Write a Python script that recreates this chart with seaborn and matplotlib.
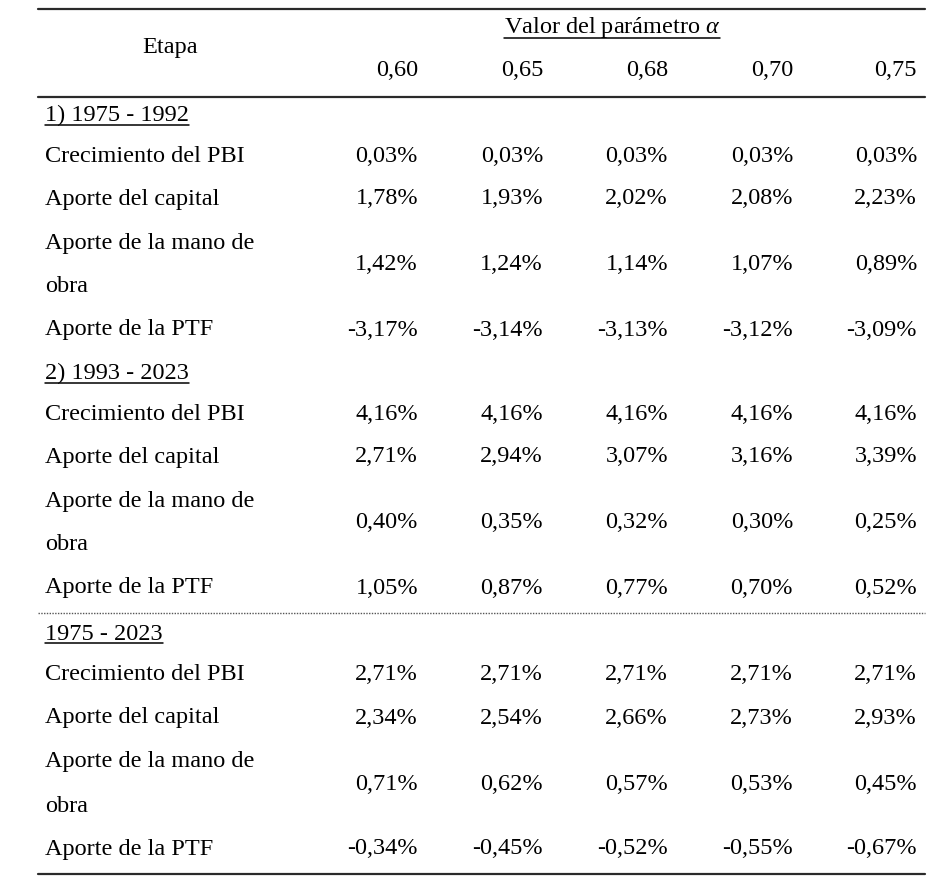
import matplotlib
matplotlib.use("Agg")
import matplotlib.pyplot as plt
import seaborn as sns
import pandas as pd

sns.set_theme(style="white")
plt.rcParams['font.family'] = ['Liberation Serif', 'DejaVu Serif']
plt.rcParams['mathtext.fontset'] = 'custom'
plt.rcParams['mathtext.it'] = 'Liberation Serif:italic'
plt.rcParams['mathtext.rm'] = 'Liberation Serif'
plt.rcParams['text.color'] = 'black'

alphas = ["0,60", "0,65", "0,68", "0,70", "0,75"]
sections = ["1) 1975 - 1992", "2) 1993 - 2023", "1975 - 2023"]
row_labels = ["Crecimiento del PBI", "Aporte del capital",
              "Aporte de la mano de\nobra", "Aporte de la PTF"]

s1_pbi = ["0,03%", "0,03%", "0,03%", "0,03%", "0,03%"]
s1_cap = ["1,78%", "1,93%", "2,02%", "2,08%", "2,23%"]
s1_mo = ["1,42%", "1,24%", "1,14%", "1,07%", "0,89%"]
s1_ptf = ["-3,17%", "-3,14%", "-3,13%", "-3,12%", "-3,09%"]

s2_pbi = ["4,16%", "4,16%", "4,16%", "4,16%", "4,16%"]
s2_cap = ["2,71%", "2,94%", "3,07%", "3,16%", "3,39%"]
s2_mo = ["0,40%", "0,35%", "0,32%", "0,30%", "0,25%"]
s2_ptf = ["1,05%", "0,87%", "0,77%", "0,70%", "0,52%"]

s3_pbi = ["2,71%", "2,71%", "2,71%", "2,71%", "2,71%"]
s3_cap = ["2,34%", "2,54%", "2,66%", "2,73%", "2,93%"]
s3_mo = ["0,71%", "0,62%", "0,57%", "0,53%", "0,45%"]
s3_ptf = ["-0,34%", "-0,45%", "-0,52%", "-0,55%", "-0,67%"]

section_data = [[s1_pbi, s1_cap, s1_mo, s1_ptf],
                [s2_pbi, s2_cap, s2_mo, s2_ptf],
                [s3_pbi, s3_cap, s3_mo, s3_ptf]]

W, H = 940, 890
fig = plt.figure(figsize=(9.4, 8.9), dpi=100)
ax = fig.add_axes([0, 0, 1, 1])
ax.set_xlim(0, W)
ax.set_ylim(H, 0)
ax.axis("off")

FS = 17.5
col_right = [418, 543, 668, 793, 917]
label_x = 45
LEFT, RIGHT = 38, 925

def hrule(y, ls="-", lw=1.6, color="#2a2a2a"):
    df = pd.DataFrame({"x": [LEFT, RIGHT], "y": [y, y]})
    sns.lineplot(data=df, x="x", y="y", ax=ax, color=color, lw=lw,
                 linestyle=ls, legend=False)

def underline(t):
    fig.canvas.draw()
    r = fig.canvas.get_renderer()
    bb = t.get_window_extent(renderer=r)
    inv = ax.transData.inverted()
    (x0, y0) = inv.transform((bb.x0, bb.y0))
    (x1, _) = inv.transform((bb.x1, bb.y0))
    ax.plot([x0, x1], [y0 - 1, y0 - 1], color="black", lw=1.1)

# rules
hrule(9)
hrule(97)
hrule(613, ls=(0, (1, 1)), lw=1.0, color="#555555")
hrule(874)

# header
ax.text(170, 48, "Etapa", fontsize=FS, ha="center", va="center")
t = ax.text(612, 27, r"Valor del parámetro $\it{\alpha}$", fontsize=FS,
            ha="center", va="center")
underline(t)
for a, xr in zip(alphas, col_right):
    ax.text(xr, 70, a, fontsize=FS, ha="right", va="center")

section_y = [115, 373, 634]
row_offsets = [41, 84, 150, 215]
for sec, sy, data in zip(sections, section_y, section_data):
    t = ax.text(label_x, sy, sec, fontsize=FS, ha="left", va="center")
    underline(t)
    for lab, off, vals in zip(row_labels, row_offsets, data):
        y = sy + off
        if "\n" in lab:
            l1, l2 = lab.split("\n")
            ax.text(label_x, y - 22, l1, fontsize=FS, ha="left", va="center")
            ax.text(label_x, y + 22, l2, fontsize=FS, ha="left", va="center")
        else:
            ax.text(label_x, y, lab, fontsize=FS, ha="left", va="center")
        for v, xr in zip(vals, col_right):
            ax.text(xr, y, v, fontsize=FS, ha="right", va="center")

fig.savefig("out.png", dpi=100, facecolor="white")
